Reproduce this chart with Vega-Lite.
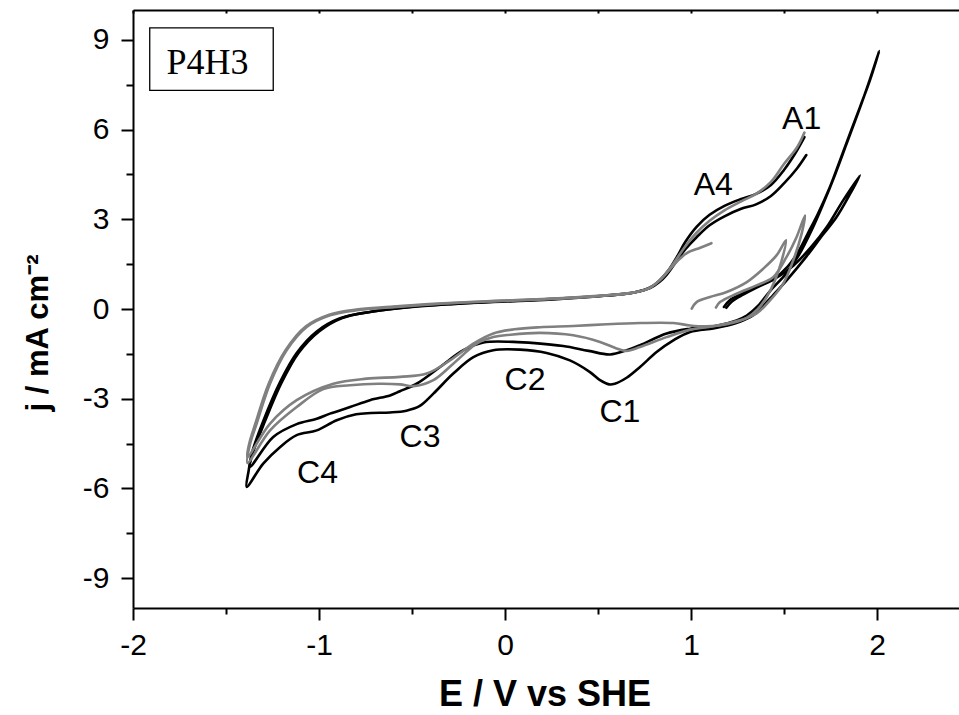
{
"$schema": "https://vega.github.io/schema/vega-lite/v6.json",
"width": 826, "height": 598,
"autosize": "none",
"padding": {"left": 133, "top": 10, "right": 0, "bottom": 107},
"config": {"view": {"stroke": null}, "axis": {"grid": false, "domainColor": "#000000", "tickColor": "#000000", "domainWidth": 2, "tickWidth": 2, "labelColor": "#000000", "titleColor": "#000000", "labelFont": "Liberation Sans", "titleFont": "Liberation Sans"}},
"datasets": {
"cv": [
{"s":"K1","i":1,"E":1.19,"j":0.04},{"s":"K1","i":2,"E":1.22,"j":0.25},{"s":"K1","i":3,"E":1.28,"j":0.48},{"s":"K1","i":4,"E":1.353,"j":0.72},{"s":"K1","i":5,"E":1.443,"j":0.98},{"s":"K1","i":6,"E":1.55,"j":1.45},{"s":"K1","i":7,"E":1.65,"j":2.1},{"s":"K1","i":8,"E":1.73,"j":2.74},{"s":"K1","i":9,"E":1.819,"j":3.64},{"s":"K1","i":10,"E":1.909,"j":4.47},
{"s":"K1","i":11,"E":1.86,"j":3.9},{"s":"K1","i":12,"E":1.78,"j":3.05},{"s":"K1","i":13,"E":1.711,"j":2.5},{"s":"K1","i":14,"E":1.62,"j":1.75},{"s":"K1","i":15,"E":1.52,"j":1.0},{"s":"K1","i":16,"E":1.44,"j":0.45},{"s":"K1","i":17,"E":1.38,"j":0.05},{"s":"K1","i":18,"E":1.335,"j":-0.21},{"s":"K1","i":19,"E":1.263,"j":-0.43},{"s":"K1","i":20,"E":1.19,"j":-0.56},
{"s":"K1","i":21,"E":1.12,"j":-0.65},{"s":"K1","i":22,"E":0.995,"j":-0.77},{"s":"K1","i":23,"E":0.905,"j":-1.05},{"s":"K1","i":24,"E":0.815,"j":-1.44},{"s":"K1","i":25,"E":0.726,"j":-1.94},{"s":"K1","i":26,"E":0.654,"j":-2.3},{"s":"K1","i":27,"E":0.59,"j":-2.5},{"s":"K1","i":28,"E":0.56,"j":-2.52},{"s":"K1","i":29,"E":0.511,"j":-2.38},{"s":"K1","i":30,"E":0.457,"j":-2.11},
{"s":"K1","i":31,"E":0.349,"j":-1.72},{"s":"K1","i":32,"E":0.224,"j":-1.47},{"s":"K1","i":33,"E":0.081,"j":-1.36},{"s":"K1","i":34,"E":-0.063,"j":-1.38},{"s":"K1","i":35,"E":-0.17,"j":-1.61},{"s":"K1","i":36,"E":-0.278,"j":-2.16},{"s":"K1","i":37,"E":-0.385,"j":-2.83},{"s":"K1","i":38,"E":-0.46,"j":-3.25},{"s":"K1","i":39,"E":-0.53,"j":-3.4},{"s":"K1","i":40,"E":-0.618,"j":-3.46},
{"s":"K1","i":41,"E":-0.72,"j":-3.48},{"s":"K1","i":42,"E":-0.8,"j":-3.52},{"s":"K1","i":43,"E":-0.905,"j":-3.72},{"s":"K1","i":44,"E":-1.012,"j":-4.06},{"s":"K1","i":45,"E":-1.12,"j":-4.22},{"s":"K1","i":46,"E":-1.21,"j":-4.62},{"s":"K1","i":47,"E":-1.3,"j":-5.17},{"s":"K1","i":48,"E":-1.389,"j":-5.95},
{"s":"K1","i":49,"E":-1.378,"j":-5.4},{"s":"K1","i":50,"E":-1.36,"j":-4.8},{"s":"K1","i":51,"E":-1.3,"j":-3.75},{"s":"K1","i":52,"E":-1.21,"j":-2.45},{"s":"K1","i":53,"E":-1.12,"j":-1.47},{"s":"K1","i":54,"E":-1.012,"j":-0.75},{"s":"K1","i":55,"E":-0.887,"j":-0.31},{"s":"K1","i":56,"E":-0.726,"j":-0.1},{"s":"K1","i":57,"E":-0.5,"j":0.07},{"s":"K1","i":58,"E":-0.25,"j":0.18},
{"s":"K1","i":59,"E":0.0,"j":0.25},{"s":"K1","i":60,"E":0.3,"j":0.34},{"s":"K1","i":61,"E":0.55,"j":0.45},{"s":"K1","i":62,"E":0.7,"j":0.56},{"s":"K1","i":63,"E":0.78,"j":0.7},{"s":"K1","i":64,"E":0.83,"j":0.9},{"s":"K1","i":65,"E":0.87,"j":1.15},{"s":"K1","i":66,"E":0.92,"j":1.58},{"s":"K1","i":67,"E":0.97,"j":2.0},{"s":"K1","i":68,"E":1.03,"j":2.4},
{"s":"K1","i":69,"E":1.1,"j":2.8},{"s":"K1","i":70,"E":1.18,"j":3.1},{"s":"K1","i":71,"E":1.27,"j":3.35},{"s":"K1","i":72,"E":1.35,"j":3.5},{"s":"K1","i":73,"E":1.43,"j":3.78},{"s":"K1","i":74,"E":1.5,"j":4.2},{"s":"K1","i":75,"E":1.57,"j":4.7},{"s":"K1","i":76,"E":1.62,"j":5.15},

{"s":"K2","i":1,"E":1.177,"j":0.07},{"s":"K2","i":2,"E":1.21,"j":0.3},{"s":"K2","i":3,"E":1.27,"j":0.5},{"s":"K2","i":4,"E":1.353,"j":0.75},{"s":"K2","i":5,"E":1.443,"j":1.0},{"s":"K2","i":6,"E":1.52,"j":1.42},{"s":"K2","i":7,"E":1.58,"j":1.95},{"s":"K2","i":8,"E":1.63,"j":2.55},{"s":"K2","i":9,"E":1.68,"j":3.15},{"s":"K2","i":10,"E":1.747,"j":4.08},
{"s":"K2","i":11,"E":1.801,"j":4.97},{"s":"K2","i":12,"E":1.855,"j":5.87},{"s":"K2","i":13,"E":1.909,"j":6.76},{"s":"K2","i":14,"E":1.962,"j":7.65},{"s":"K2","i":15,"E":2.012,"j":8.63},
{"s":"K2","i":16,"E":1.955,"j":7.55},{"s":"K2","i":17,"E":1.895,"j":6.5},{"s":"K2","i":18,"E":1.835,"j":5.5},{"s":"K2","i":19,"E":1.775,"j":4.5},{"s":"K2","i":20,"E":1.71,"j":3.5},{"s":"K2","i":21,"E":1.65,"j":2.65},{"s":"K2","i":22,"E":1.58,"j":1.8},{"s":"K2","i":23,"E":1.514,"j":1.2},{"s":"K2","i":24,"E":1.425,"j":0.6},{"s":"K2","i":25,"E":1.36,"j":0.1},
{"s":"K2","i":26,"E":1.3,"j":-0.22},{"s":"K2","i":27,"E":1.245,"j":-0.38},{"s":"K2","i":28,"E":1.138,"j":-0.56},{"s":"K2","i":29,"E":0.995,"j":-0.66},{"s":"K2","i":30,"E":0.869,"j":-0.82},{"s":"K2","i":31,"E":0.726,"j":-1.21},{"s":"K2","i":32,"E":0.654,"j":-1.38},{"s":"K2","i":33,"E":0.565,"j":-1.52},{"s":"K2","i":34,"E":0.45,"j":-1.4},{"s":"K2","i":35,"E":0.313,"j":-1.24},
{"s":"K2","i":36,"E":0.16,"j":-1.14},{"s":"K2","i":37,"E":0.045,"j":-1.1},{"s":"K2","i":38,"E":-0.116,"j":-1.12},{"s":"K2","i":39,"E":-0.224,"j":-1.38},{"s":"K2","i":40,"E":-0.349,"j":-1.94},{"s":"K2","i":41,"E":-0.475,"j":-2.5},{"s":"K2","i":42,"E":-0.565,"j":-2.75},{"s":"K2","i":43,"E":-0.618,"j":-2.89},{"s":"K2","i":44,"E":-0.726,"j":-3.05},{"s":"K2","i":45,"E":-0.833,"j":-3.28},
{"s":"K2","i":46,"E":-0.941,"j":-3.5},{"s":"K2","i":47,"E":-1.012,"j":-3.67},{"s":"K2","i":48,"E":-1.12,"j":-3.85},{"s":"K2","i":49,"E":-1.246,"j":-4.28},{"s":"K2","i":50,"E":-1.371,"j":-5.28},
{"s":"K2","i":51,"E":-1.355,"j":-4.8},{"s":"K2","i":52,"E":-1.29,"j":-3.75},{"s":"K2","i":53,"E":-1.2,"j":-2.45},{"s":"K2","i":54,"E":-1.11,"j":-1.47},{"s":"K2","i":55,"E":-1.0,"j":-0.75},{"s":"K2","i":56,"E":-0.875,"j":-0.3},{"s":"K2","i":57,"E":-0.72,"j":-0.09},{"s":"K2","i":58,"E":-0.5,"j":0.08},{"s":"K2","i":59,"E":-0.25,"j":0.18},{"s":"K2","i":60,"E":0.0,"j":0.26},
{"s":"K2","i":61,"E":0.3,"j":0.35},{"s":"K2","i":62,"E":0.55,"j":0.45},{"s":"K2","i":63,"E":0.7,"j":0.56},{"s":"K2","i":64,"E":0.78,"j":0.72},{"s":"K2","i":65,"E":0.83,"j":0.95},{"s":"K2","i":66,"E":0.88,"j":1.3},{"s":"K2","i":67,"E":0.925,"j":1.75},{"s":"K2","i":68,"E":0.97,"j":2.25},{"s":"K2","i":69,"E":1.03,"j":2.75},{"s":"K2","i":70,"E":1.1,"j":3.15},
{"s":"K2","i":71,"E":1.18,"j":3.45},{"s":"K2","i":72,"E":1.27,"j":3.68},{"s":"K2","i":73,"E":1.35,"j":3.85},{"s":"K2","i":74,"E":1.43,"j":4.15},{"s":"K2","i":75,"E":1.5,"j":4.65},{"s":"K2","i":76,"E":1.56,"j":5.2},{"s":"K2","i":77,"E":1.61,"j":5.75},

{"s":"G1","i":1,"E":1.134,"j":0.05},{"s":"G1","i":2,"E":1.156,"j":0.23},{"s":"G1","i":3,"E":1.245,"j":0.51},{"s":"G1","i":4,"E":1.353,"j":0.79},{"s":"G1","i":5,"E":1.443,"j":1.07},{"s":"G1","i":6,"E":1.514,"j":1.74},{"s":"G1","i":7,"E":1.568,"j":2.41},{"s":"G1","i":8,"E":1.613,"j":3.13},
{"s":"G1","i":9,"E":1.595,"j":2.52},{"s":"G1","i":10,"E":1.55,"j":1.63},{"s":"G1","i":11,"E":1.496,"j":0.85},{"s":"G1","i":12,"E":1.425,"j":0.29},{"s":"G1","i":13,"E":1.353,"j":-0.15},{"s":"G1","i":14,"E":1.263,"j":-0.38},{"s":"G1","i":15,"E":1.12,"j":-0.58},{"s":"G1","i":16,"E":0.995,"j":-0.69},{"s":"G1","i":17,"E":0.869,"j":-0.94},{"s":"G1","i":18,"E":0.726,"j":-1.27},
{"s":"G1","i":19,"E":0.654,"j":-1.4},{"s":"G1","i":20,"E":0.6,"j":-1.32},{"s":"G1","i":21,"E":0.511,"j":-1.1},{"s":"G1","i":22,"E":0.367,"j":-0.88},{"s":"G1","i":23,"E":0.188,"j":-0.8},{"s":"G1","i":24,"E":0.03,"j":-0.86},{"s":"G1","i":25,"E":-0.063,"j":-0.94},{"s":"G1","i":26,"E":-0.152,"j":-1.16},{"s":"G1","i":27,"E":-0.278,"j":-1.83},{"s":"G1","i":28,"E":-0.385,"j":-2.38},
{"s":"G1","i":29,"E":-0.493,"j":-2.58},{"s":"G1","i":30,"E":-0.565,"j":-2.52},{"s":"G1","i":31,"E":-0.68,"j":-2.5},{"s":"G1","i":32,"E":-0.833,"j":-2.55},{"s":"G1","i":33,"E":-0.977,"j":-2.68},{"s":"G1","i":34,"E":-1.12,"j":-3.28},{"s":"G1","i":35,"E":-1.263,"j":-4.06},{"s":"G1","i":36,"E":-1.385,"j":-5.15},
{"s":"G1","i":37,"E":-1.37,"j":-4.5},{"s":"G1","i":38,"E":-1.335,"j":-3.83},{"s":"G1","i":39,"E":-1.263,"j":-2.49},{"s":"G1","i":40,"E":-1.174,"j":-1.38},{"s":"G1","i":41,"E":-1.066,"j":-0.6},{"s":"G1","i":42,"E":-0.941,"j":-0.21},{"s":"G1","i":43,"E":-0.797,"j":-0.04},{"s":"G1","i":44,"E":-0.618,"j":0.05},{"s":"G1","i":45,"E":-0.385,"j":0.16},{"s":"G1","i":46,"E":-0.1,"j":0.25},
{"s":"G1","i":47,"E":0.2,"j":0.32},{"s":"G1","i":48,"E":0.5,"j":0.43},{"s":"G1","i":49,"E":0.68,"j":0.54},{"s":"G1","i":50,"E":0.77,"j":0.68},{"s":"G1","i":51,"E":0.83,"j":0.95},{"s":"G1","i":52,"E":0.88,"j":1.3},{"s":"G1","i":53,"E":0.925,"j":1.7},{"s":"G1","i":54,"E":0.97,"j":2.1},{"s":"G1","i":55,"E":1.03,"j":2.55},{"s":"G1","i":56,"E":1.1,"j":2.95},
{"s":"G1","i":57,"E":1.18,"j":3.3},{"s":"G1","i":58,"E":1.27,"j":3.6},{"s":"G1","i":59,"E":1.35,"j":3.85},{"s":"G1","i":60,"E":1.43,"j":4.25},{"s":"G1","i":61,"E":1.5,"j":4.85},{"s":"G1","i":62,"E":1.57,"j":5.4},{"s":"G1","i":63,"E":1.61,"j":5.9},

{"s":"G2","i":1,"E":1.004,"j":0.01},{"s":"G2","i":2,"E":1.03,"j":0.23},{"s":"G2","i":3,"E":1.102,"j":0.4},{"s":"G2","i":4,"E":1.192,"j":0.57},{"s":"G2","i":5,"E":1.3,"j":0.9},{"s":"G2","i":6,"E":1.389,"j":1.35},{"s":"G2","i":7,"E":1.461,"j":1.8},{"s":"G2","i":8,"E":1.511,"j":2.3},
{"s":"G2","i":9,"E":1.488,"j":1.63},{"s":"G2","i":10,"E":1.452,"j":0.96},{"s":"G2","i":11,"E":1.407,"j":0.4},{"s":"G2","i":12,"E":1.36,"j":0.0},{"s":"G2","i":13,"E":1.3,"j":-0.3},{"s":"G2","i":14,"E":1.192,"j":-0.51},{"s":"G2","i":15,"E":1.084,"j":-0.58},{"s":"G2","i":16,"E":0.995,"j":-0.55},{"s":"G2","i":17,"E":0.905,"j":-0.47},{"s":"G2","i":18,"E":0.726,"j":-0.47},
{"s":"G2","i":19,"E":0.547,"j":-0.51},{"s":"G2","i":20,"E":0.367,"j":-0.57},{"s":"G2","i":21,"E":0.188,"j":-0.61},{"s":"G2","i":22,"E":0.05,"j":-0.68},{"s":"G2","i":23,"E":-0.063,"j":-0.82},{"s":"G2","i":24,"E":-0.17,"j":-1.16},{"s":"G2","i":25,"E":-0.296,"j":-1.72},{"s":"G2","i":26,"E":-0.421,"j":-2.16},{"s":"G2","i":27,"E":-0.565,"j":-2.27},{"s":"G2","i":28,"E":-0.744,"j":-2.33},
{"s":"G2","i":29,"E":-0.923,"j":-2.5},{"s":"G2","i":30,"E":-1.12,"j":-3.05},{"s":"G2","i":31,"E":-1.263,"j":-3.83},{"s":"G2","i":32,"E":-1.385,"j":-4.95},
{"s":"G2","i":33,"E":-1.375,"j":-4.5},{"s":"G2","i":34,"E":-1.342,"j":-3.83},{"s":"G2","i":35,"E":-1.27,"j":-2.49},{"s":"G2","i":36,"E":-1.18,"j":-1.38},{"s":"G2","i":37,"E":-1.07,"j":-0.58},{"s":"G2","i":38,"E":-0.945,"j":-0.19},{"s":"G2","i":39,"E":-0.8,"j":-0.02},{"s":"G2","i":40,"E":-0.618,"j":0.07},{"s":"G2","i":41,"E":-0.385,"j":0.17},{"s":"G2","i":42,"E":-0.1,"j":0.26},
{"s":"G2","i":43,"E":0.2,"j":0.33},{"s":"G2","i":44,"E":0.5,"j":0.44},{"s":"G2","i":45,"E":0.68,"j":0.54},{"s":"G2","i":46,"E":0.77,"j":0.68},{"s":"G2","i":47,"E":0.83,"j":0.95},{"s":"G2","i":48,"E":0.88,"j":1.28},{"s":"G2","i":49,"E":0.93,"j":1.62},{"s":"G2","i":50,"E":0.98,"j":1.88},{"s":"G2","i":51,"E":1.05,"j":2.05},{"s":"G2","i":52,"E":1.11,"j":2.2}
],
"notes": [
{"t":"A1","E":1.595,"j":6.03},{"t":"A4","E":1.12,"j":3.8},{"t":"C1","E":0.618,"j":-3.79},{"t":"C2","E":0.108,"j":-2.72},{"t":"C3","E":-0.457,"j":-4.62},{"t":"C4","E":-1.008,"j":-5.83}
],
"box": [{"x1":-1.91,"x2":-1.246,"y1":7.31,"y2":9.4}],
"tag": [{"t":"P4H3","E":-1.6,"j":7.86}]
},
"layer": [
{
"data": {"name": "box"},
"mark": {"type": "rect", "fill": "#ffffff", "stroke": "#000000", "strokeWidth": 1.3},
"encoding": {
"x": {"field": "x1", "type": "quantitative", "scale": {"domain": [-2, 2.441], "nice": false, "zero": false},
 "axis": {"orient": "bottom", "values": [-1.5, -0.5, 0.5, 1.5], "tickSize": 6, "labels": false, "domain": false, "title": null}},
"x2": {"field": "x2"},
"y": {"field": "y1", "type": "quantitative", "scale": {"domain": [-10, 10], "nice": false, "zero": false},
 "axis": {"orient": "left", "values": [-7.5, -4.5, -1.5, 1.5, 4.5, 7.5], "tickSize": 7, "labels": false, "domain": false, "title": null}},
"y2": {"field": "y2"}
}
},
{
"data": {"name": "cv"},
"mark": {"type": "line", "strokeWidth": 2.6, "interpolate": "catmull-rom", "strokeJoin": "round", "strokeCap": "round"},
"encoding": {
"x": {"field": "E", "type": "quantitative", "scale": {"domain": [-2, 2.441], "nice": false, "zero": false},
 "axis": {"orient": "bottom", "values": [-2, -1, 0, 1, 2], "tickSize": 12, "labelFontSize": 30, "labelPadding": 10, "labelFlush": false,
  "labelExpr": "replace(datum.label, '\u2212', '-')",
  "title": "E / V vs SHE", "titleFontSize": 36, "titleFontWeight": "bold", "titleX": 411.5, "titleY": 97, "titleBaseline": "alphabetic"}},
"y": {"field": "j", "type": "quantitative", "scale": {"domain": [-10, 10], "nice": false, "zero": false},
 "axis": {"orient": "left", "values": [-9, -6, -3, 0, 3, 6, 9], "tickSize": 12, "labelFontSize": 30, "labelPadding": 12, "labelFlush": false,
  "labelExpr": "replace(datum.label, '\u2212', '-')",
  "title": "j / mA cm⁻²", "titleFontSize": 31, "titleFontWeight": "bold", "titleAngle": 270, "titleX": -86, "titleY": 322.5, "titleBaseline": "alphabetic"}},
"color": {"field": "s", "type": "nominal", "scale": {"domain": ["G2", "G1", "K2", "K1"], "range": ["#808080", "#808080", "#000000", "#000000"]}, "legend": null},
"order": {"field": "i", "type": "quantitative"}
}
},
{
"data": {"name": "tag"},
"mark": {"type": "text", "font": "Liberation Serif", "fontSize": 36, "align": "center", "baseline": "alphabetic", "color": "#000000"},
"encoding": {
"x": {"field": "E", "type": "quantitative", "scale": {"domain": [-2, 2.441], "nice": false, "zero": false},
 "axis": {"orient": "top", "values": [-2, -1.5, -1, -0.5, 0, 0.5, 1, 1.5, 2], "tickSize": -3, "labels": false, "title": null}},
"y": {"field": "j", "type": "quantitative", "scale": {"domain": [-10, 10], "nice": false, "zero": false}, "axis": null},
"text": {"field": "t"}
}
},
{
"data": {"name": "notes"},
"mark": {"type": "text", "font": "Liberation Sans", "fontSize": 32, "align": "center", "baseline": "alphabetic", "color": "#000000"},
"encoding": {
"x": {"field": "E", "type": "quantitative", "scale": {"domain": [-2, 2.441], "nice": false, "zero": false}, "axis": null},
"y": {"field": "j", "type": "quantitative", "scale": {"domain": [-10, 10], "nice": false, "zero": false}, "axis": null},
"text": {"field": "t"}
}
}
],
"resolve": {"axis": {"x": "independent", "y": "independent"}}
}
